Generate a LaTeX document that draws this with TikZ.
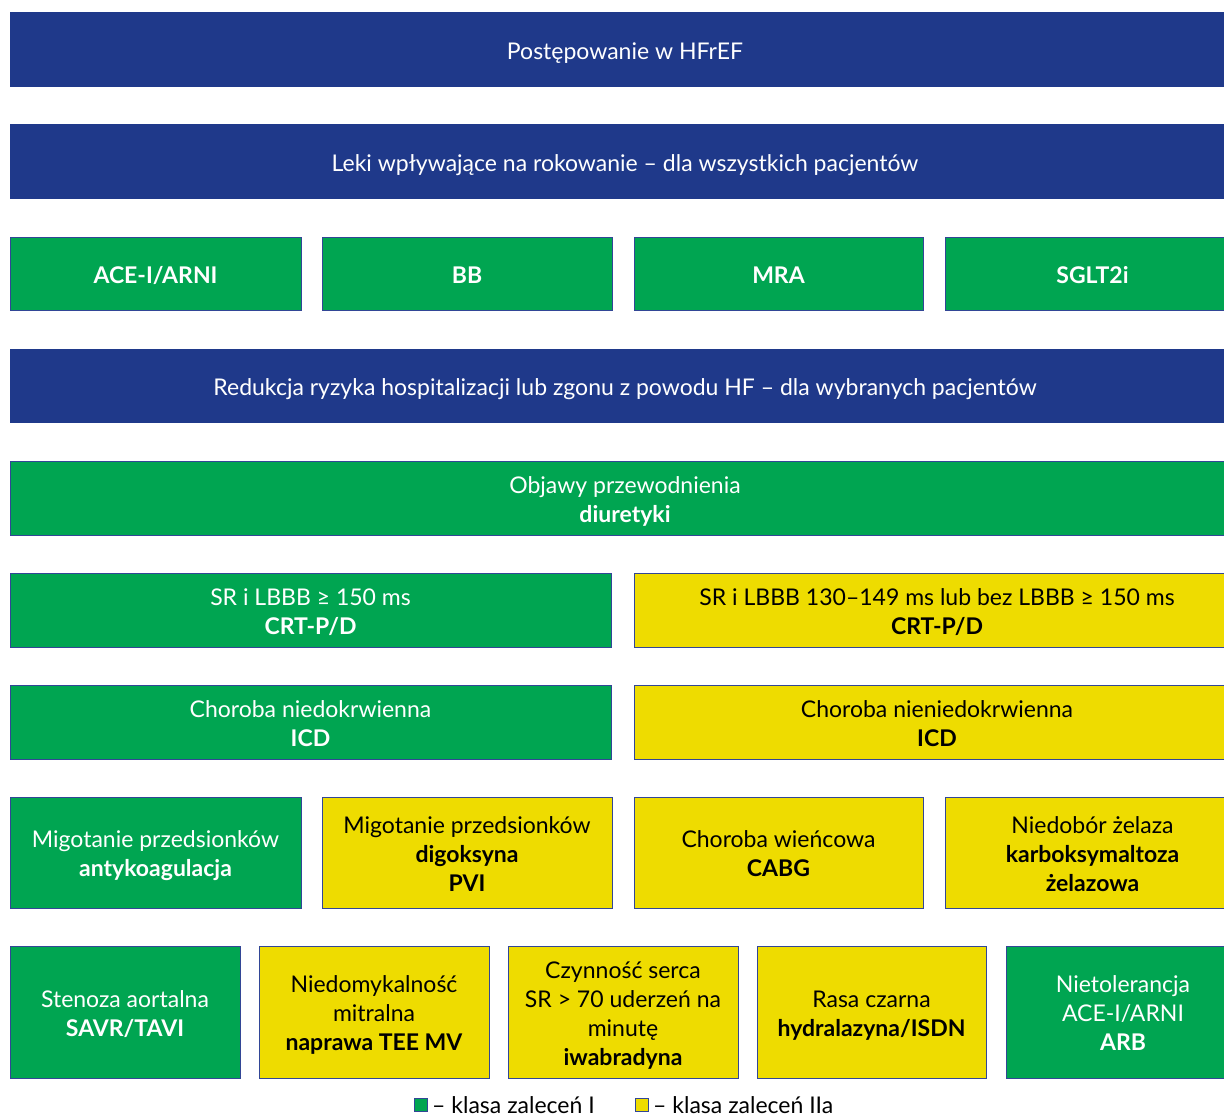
\documentclass[tikz,border=0pt]{standalone}
\usepackage{fontspec}
\setmainfont{Lato}
\definecolor{hblue}{RGB}{31,57,138}
\definecolor{hgreen}{RGB}{0,165,81}
\definecolor{hyellow}{RGB}{238,220,0}
\definecolor{hbord}{RGB}{50,70,150}
\newcommand{\fs}{\fontsize{23}{29}\selectfont}
\begin{document}
\begin{tikzpicture}[x=1pt,y=-1pt,
  base/.style={inner sep=0pt, align=center, font=\fs, line width=0.9pt},
  bluebox/.style={base, fill=hblue, text=white},
  greenbox/.style={base, fill=hgreen, draw=hbord, text=white},
  yellowbox/.style={base, fill=hyellow, draw=hbord, text=black},
  legsq/.style={draw=hbord, line width=0.8pt, minimum size=13pt, inner sep=0pt}]
\useasboundingbox (0,0) rectangle (1224,1118);
\newcommand{\bx}[7]{\node[#6, minimum width={(#4)-(#2)}, minimum height={(#5)-(#3)}] (#1) at ({((#2)+(#4))/2},{((#3)+(#5))/2}) {\raisebox{-4pt}[\height][\depth]{\begin{tabular}{@{}c@{}}#7\end{tabular}}};}
% row 1-2 blue headers
\bx{h1}{10}{12}{1240}{87}{bluebox}{Postępowanie w HFrEF}
\bx{h2}{10}{124}{1240}{199}{bluebox}{Leki wpływające na rokowanie – dla wszystkich pacjentów}
% row 3
\bx{ace}{10}{237}{301}{310}{greenbox}{\bfseries ACE-I/ARNI}
\bx{bb}{322}{237}{612}{310}{greenbox}{\bfseries BB}
\bx{mra}{634}{237}{923}{310}{greenbox}{\bfseries MRA}
\bx{sglt}{945}{237}{1240}{310}{greenbox}{\bfseries SGLT2i}
% row 4
\bx{h3}{10}{349}{1240}{423}{bluebox}{Redukcja ryzyka hospitalizacji lub zgonu z powodu HF – dla wybranych pacjentów}
% row 5
\bx{diur}{10}{461}{1240}{535}{greenbox}{Objawy przewodnienia\\\bfseries diuretyki}
% row 6
\bx{crt1}{10}{573}{611}{647}{greenbox}{SR i LBBB ≥ 150 ms\\\bfseries CRT-P/D}
\bx{crt2}{634}{573}{1240}{647}{yellowbox}{SR i LBBB 130–149 ms lub bez LBBB ≥ 150 ms\\\bfseries CRT-P/D}
% row 7
\bx{icd1}{10}{685}{611}{759}{greenbox}{Choroba niedokrwienna\\\bfseries ICD}
\bx{icd2}{634}{685}{1240}{759}{yellowbox}{Choroba nieniedokrwienna\\\bfseries ICD}
% row 8
\bx{af1}{10}{797}{301}{908}{greenbox}{Migotanie przedsionków\\\bfseries antykoagulacja}
\bx{af2}{322}{797}{612}{908}{yellowbox}{Migotanie przedsionków\\\bfseries digoksyna\\\bfseries PVI}
\bx{cad}{634}{797}{923}{908}{yellowbox}{Choroba wieńcowa\\\bfseries CABG}
\bx{iron}{945}{797}{1240}{908}{yellowbox}{Niedobór żelaza\\\bfseries karboksymaltoza\\\bfseries żelazowa}
% row 9
\bx{as}{10}{946}{240}{1078}{greenbox}{Stenoza aortalna\\\bfseries SAVR/TAVI}
\bx{mr}{259}{946}{489}{1078}{yellowbox}{Niedomykalność\\mitralna\\\bfseries naprawa TEE MV}
\bx{hr}{508}{946}{738}{1078}{yellowbox}{Czynność serca\\SR > 70 uderzeń na\\minutę\\\bfseries iwabradyna}
\bx{black}{757}{946}{986}{1078}{yellowbox}{Rasa czarna\\\bfseries hydralazyna/ISDN}
\bx{arb}{1006}{946}{1240}{1078}{greenbox}{Nietolerancja\\ACE-I/ARNI\\\bfseries ARB}
% legend
\node[legsq, fill=hgreen] (lg) at (421,1105) {};
\node[anchor=base west, font=\fs, inner sep=0pt] (lgt) at (432,1113) {– klasa zaleceń I};
\node[legsq, fill=hyellow] (ly) at (642,1105) {};
\node[anchor=base west, font=\fs, inner sep=0pt] (lyt) at (653,1113) {– klasa zaleceń IIa};
\end{tikzpicture}
\end{document}
